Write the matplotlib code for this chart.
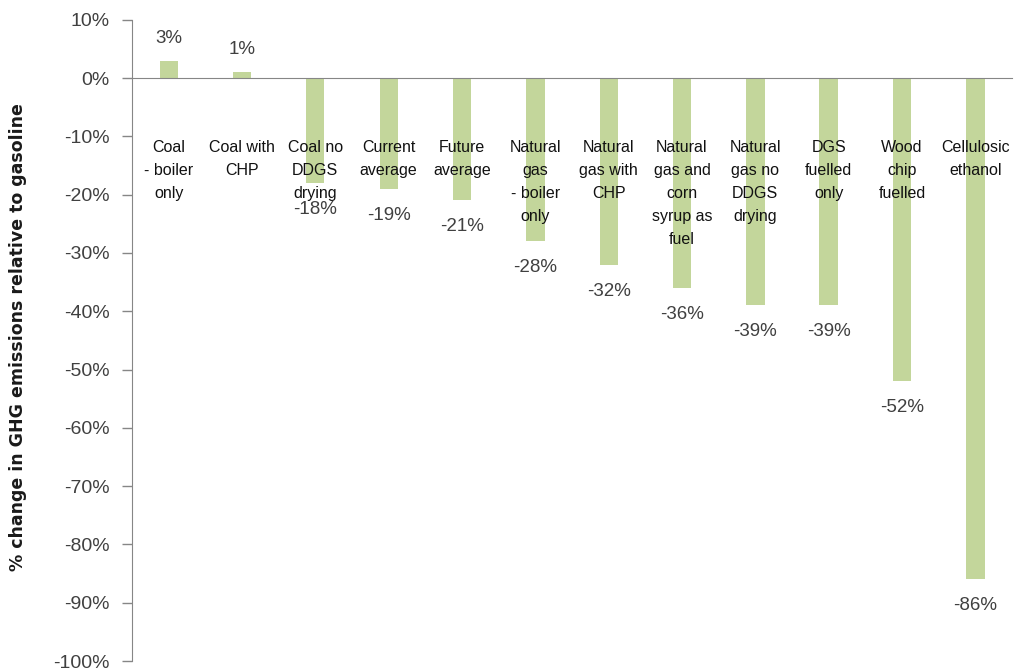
import matplotlib
matplotlib.use("Agg")
import matplotlib.pyplot as plt
from matplotlib.ticker import FuncFormatter

categories = [
    "Coal\n- boiler\nonly",
    "Coal with\nCHP",
    "Coal no\nDDGS\ndrying",
    "Current\naverage",
    "Future\naverage",
    "Natural\ngas\n- boiler\nonly",
    "Natural\ngas with\nCHP",
    "Natural\ngas and\ncorn\nsyrup as\nfuel",
    "Natural\ngas no\nDDGS\ndrying",
    "DGS\nfuelled\nonly",
    "Wood\nchip\nfuelled",
    "Cellulosic\nethanol",
]
values = [3, 1, -18, -19, -21, -28, -32, -36, -39, -39, -52, -86]
value_labels = ["3%", "1%", "-18%", "-19%", "-21%", "-28%", "-32%", "-36%", "-39%", "-39%", "-52%", "-86%"]
y_ticks = list(range(10, -101, -10))

bar_color = "#C3D69B"
axis_color = "#868686"
text_gray = "#404040"

fig = plt.figure(figsize=(10.16, 6.71), dpi=100)
ax = fig.add_axes([132 / 1016, 1 - 661 / 671, (1012 - 132) / 1016, (661 - 19.7) / 671])

x = list(range(len(values)))
ax.bar(x, values, width=0.25, color=bar_color, zorder=2)

ax.set_xlim(-0.5, len(values) - 0.5)
ax.set_ylim(-100, 10)
ax.set_yticks(y_ticks)
ax.yaxis.set_major_formatter(FuncFormatter(lambda v, p: f"{int(round(v))}%"))
ax.tick_params(axis="y", direction="out", length=7, width=1, color=axis_color,
               labelsize=14, labelcolor=text_gray, pad=9)
for lab in ax.get_yticklabels():
    lab.set_fontfamily("Liberation Sans")
ax.set_xticks([])

for s in ["top", "right"]:
    ax.spines[s].set_visible(False)
ax.spines["left"].set_color(axis_color)
ax.spines["bottom"].set_color(axis_color)
ax.spines["bottom"].set_position(("data", 0))
ax.spines["bottom"].set_zorder(3)

for xi, cat in zip(x, categories):
    ax.text(xi, -10.6, cat, ha="center", va="top", fontsize=11.5,
            family="Liberation Sans", color="#111111",
            linespacing=1.68, zorder=4)

for xi, v, lab in zip(x, values, value_labels):
    if v >= 0:
        ax.annotate(lab, (xi, v), xytext=(0, 10), textcoords="offset points",
                    ha="center", va="bottom", fontsize=13.5, color=text_gray,
                    family="Liberation Sans", zorder=5)
    else:
        ax.annotate(lab, (xi, v), xytext=(0, -13), textcoords="offset points",
                    ha="center", va="top", fontsize=13.5, color=text_gray,
                    family="Liberation Sans", zorder=5)

fig.text(18 / 1016, 1 - 337 / 671, "% change in GHG emissions relative to gasoline",
         rotation=90, ha="center", va="center", fontsize=12.5, fontweight="bold",
         color="#1a1a1a", family="DejaVu Sans")

fig.savefig("out.png", dpi=100)
